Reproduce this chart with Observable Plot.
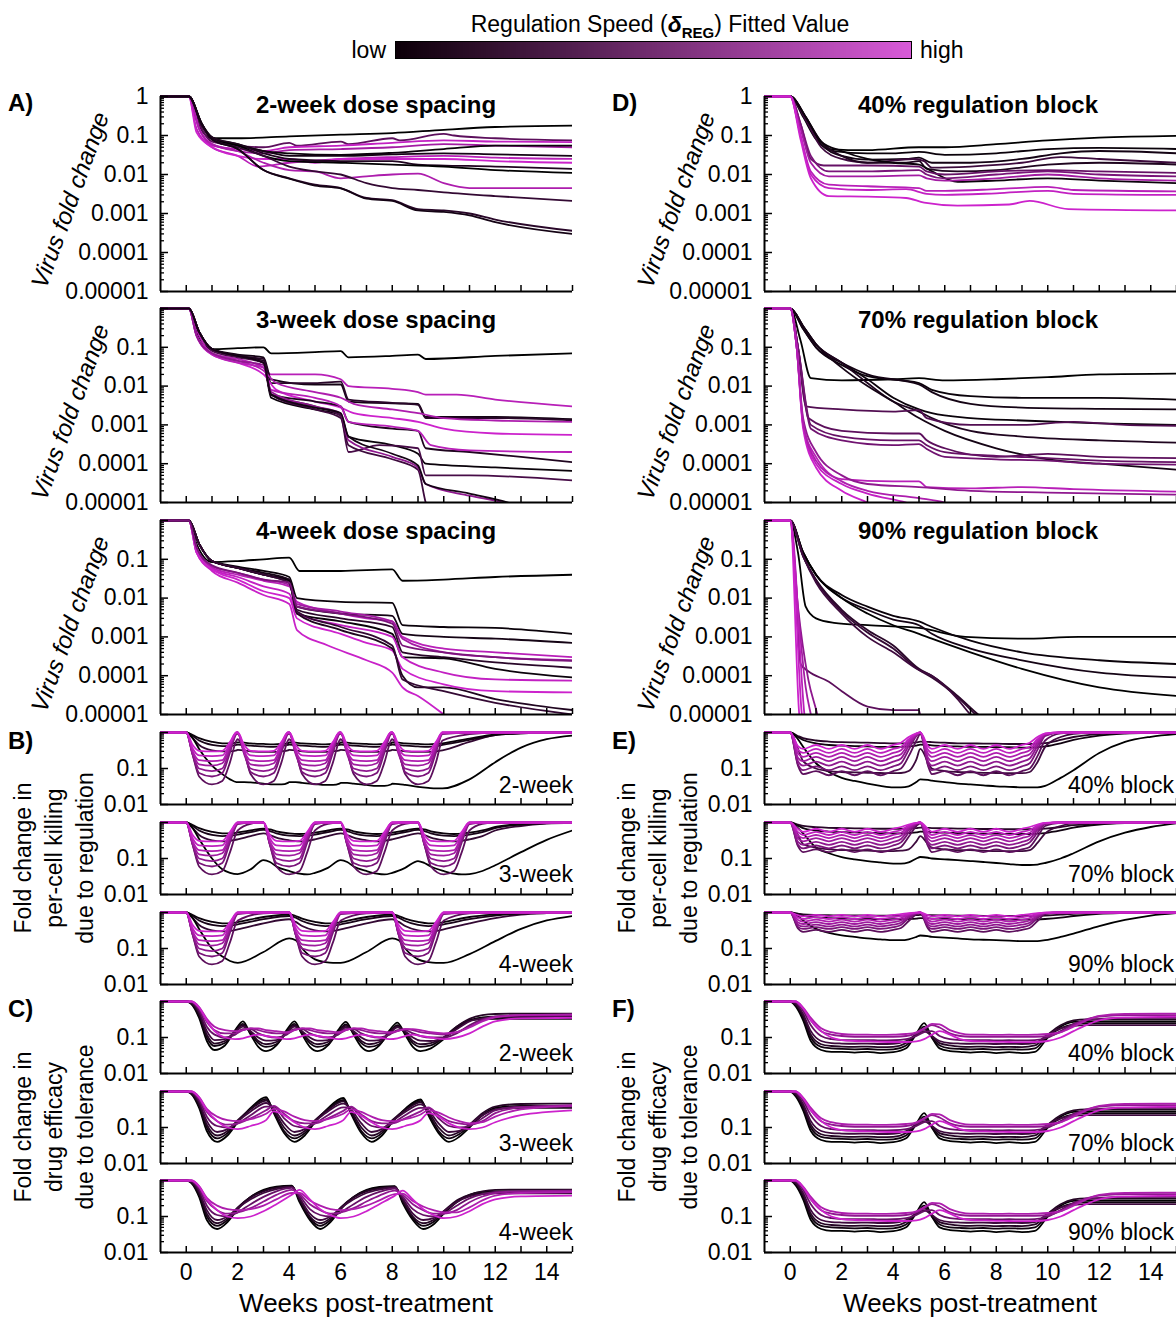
<!DOCTYPE html>
<html><head><meta charset="utf-8">
<script src="https://cdn.jsdelivr.net/npm/d3@7"></script>
<script src="https://cdn.jsdelivr.net/npm/@observablehq/plot@0.6"></script>
<style>
body{margin:0;width:1176px;height:1317px;overflow:hidden;background:#fff;}
#root{position:relative;width:1176px;height:1317px;overflow:hidden;font-family:"Liberation Sans",Arial,Helvetica,sans-serif;color:#000;}
.t{position:absolute;white-space:nowrap;line-height:1.15;}
svg{position:absolute;}
</style></head><body><div id="root"></div>
<script>
// ---------- axes / tick labels ----------
const xTicks = [0,1,2,3,4,5,6,7,8,9,10,11,12,13,14,15];
const xTickLabels = [0,2,4,6,8,10,12,14];
const virusTicks = [1,0.1,0.01,0.001,0.0001,0.00001];
const virusLabelsTop = ["1","0.1","0.01","0.001","0.0001","0.00001"];
const virusLabels = ["","0.1","0.01","0.001","0.0001","0.00001"];
const smallTicks = [1,0.1,0.01];
const smallLabels = ["","0.1","0.01"];
const LINE_RANGE = ["#000000","#cc22cc"];
const LEGEND_RANGE = ["#0d0009","#d85ad8"];

// ---------- Panel A: virus fold change, dose spacing ([colour 0..1, [[week, value],...]]) ----------
const virus2wk = [
 [0.00,[[-1,1],[0.1,1],[0.4,0.25],[1,0.085],[2,0.085],[4,0.095],[6,0.105],[8,0.115],[10,0.14],[12,0.165],[15,0.18]]],
 [0.45,[[-1,1],[0.1,1],[0.5,0.2],[1,0.07],[2,0.055],[3,0.05],[4,0.065],[4.3,0.055],[6,0.07],[6.3,0.06],[8,0.085],[8.3,0.075],[10,0.11],[10.4,0.1],[12,0.085],[15,0.075]]],
 [0.95,[[-1,1],[0.1,1],[0.5,0.15],[1,0.055],[2,0.045],[3,0.04],[4,0.05],[6,0.055],[8,0.065],[10,0.075],[12,0.07],[15,0.068]]],
 [0.80,[[-1,1],[0.1,1],[0.5,0.15],[1,0.06],[2,0.04],[3,0.035],[4,0.042],[6,0.045],[8,0.05],[10,0.06],[12,0.055],[15,0.05]]],
 [0.05,[[-1,1],[0.1,1],[0.6,0.18],[1,0.09],[2,0.06],[3,0.04],[4,0.035],[6,0.032],[8,0.036],[10,0.045],[12,0.055],[15,0.055]]],
 [0.10,[[-1,1],[0.1,1],[0.6,0.2],[1,0.09],[2,0.055],[3,0.04],[4,0.03],[6,0.03],[8,0.033],[10,0.035],[12,0.033],[15,0.03]]],
 [0.90,[[-1,1],[0.1,1],[0.4,0.15],[1,0.05],[2,0.03],[2.8,0.016],[4,0.02],[6,0.025],[8,0.028],[10,0.03],[12,0.027],[15,0.025]]],
 [1.00,[[-1,1],[0.1,1],[0.4,0.12],[1,0.05],[2,0.03],[3,0.025],[4,0.025],[5,0.02],[6,0.025],[8,0.025],[10,0.025],[12,0.022],[15,0.02]]],
 [0.15,[[-1,1],[0.1,1],[0.6,0.2],[1,0.09],[2,0.06],[3,0.035],[4,0.025],[6,0.022],[8,0.022],[9,0.018],[12,0.016],[15,0.014]]],
 [0.00,[[-1,1],[0.1,1],[0.6,0.2],[1,0.08],[2,0.055],[3,0.03],[4,0.022],[6,0.02],[8,0.018],[10,0.016],[12,0.013],[15,0.011]]],
 [0.85,[[-1,1],[0.1,1],[0.5,0.15],[1,0.06],[2,0.04],[3,0.02],[4,0.013],[5,0.012],[6,0.008],[7,0.009],[8,0.01],[9,0.0105],[10,0.006],[11,0.0045],[15,0.0045]]],
 [0.25,[[-1,1],[0.1,1],[0.6,0.18],[1,0.08],[2,0.05],[3,0.03],[4,0.016],[5,0.012],[6,0.01],[7,0.006],[8,0.0045],[9,0.004],[10,0.0035],[12,0.0028],[15,0.0021]]],
 [0.20,[[-1,1],[0.1,1],[0.6,0.2],[1,0.08],[2,0.045],[3,0.013],[4,0.008],[5,0.0055],[6,0.0045],[7,0.0025],[8,0.0022],[9,0.0013],[10,0.0012],[11,0.001],[12,0.0007],[15,0.00036]]],
 [0.10,[[-1,1],[0.1,1],[0.6,0.2],[1,0.08],[2,0.045],[3,0.013],[4,0.0078],[5,0.0052],[6,0.0044],[7,0.0024],[8,0.0021],[9,0.0012],[10,0.0011],[11,0.0009],[12,0.0006],[15,0.0003]]]
];
const virus3wk = [
 [0.00,[[-1,1],[0.1,1],[0.4,0.25],[1,0.09],[2,0.095],[3,0.1],[3.3,0.07],[5,0.075],[6,0.08],[6.3,0.055],[8,0.06],[9,0.065],[9.3,0.05],[12,0.06],[15,0.07]]],
 [0.90,[[-1,1],[0.1,1],[0.5,0.2],[1,0.07],[2,0.05],[3,0.03],[3.3,0.02],[5,0.02],[6,0.015],[6.3,0.01],[8,0.0085],[9,0.007],[9.3,0.006],[10.5,0.006],[12,0.0045],[15,0.003]]],
 [0.10,[[-1,1],[0.1,1],[0.5,0.25],[1,0.09],[2,0.065],[3,0.055],[3.3,0.015],[5,0.011],[6,0.011],[6.3,0.004],[8,0.0036],[9,0.0035],[9.3,0.0016],[12,0.0016],[15,0.0014]]],
 [0.20,[[-1,1],[0.1,1],[0.5,0.25],[1,0.085],[2,0.06],[3,0.05],[3.3,0.012],[5,0.012],[6,0.013],[6.3,0.0045],[8,0.0037],[9,0.0033],[9.3,0.0015],[12,0.0015],[15,0.0013]]],
 [0.85,[[-1,1],[0.1,1],[0.4,0.2],[1,0.07],[2,0.045],[3,0.025],[3.5,0.012],[5,0.007],[6,0.005],[6.5,0.0035],[8,0.0025],[9,0.002],[10,0.0015],[12,0.0013],[15,0.0012]]],
 [1.00,[[-1,1],[0.1,1],[0.4,0.2],[1,0.065],[2,0.04],[3,0.02],[3.5,0.008],[5,0.004],[6,0.0028],[6.5,0.002],[8,0.0015],[9,0.0012],[10,0.0008],[12,0.0006],[15,0.00055]]],
 [0.15,[[-1,1],[0.1,1],[0.5,0.25],[1,0.09],[2,0.06],[3,0.045],[3.3,0.006],[5,0.004],[6,0.003],[6.3,0.0012],[8,0.0008],[9,0.0007],[9.3,0.00025],[11,0.0002],[13,0.00015],[15,0.00011]]],
 [0.90,[[-1,1],[0.1,1],[0.4,0.2],[1,0.065],[2,0.04],[3,0.03],[3.3,0.008],[5,0.005],[6,0.003],[6.3,0.0012],[8,0.0009],[9,0.0007],[9.5,0.0003],[11,0.00022],[15,0.0002]]],
 [0.05,[[-1,1],[0.1,1],[0.5,0.25],[1,0.09],[2,0.06],[3,0.04],[3.3,0.005],[5,0.0025],[6,0.0018],[6.3,0.0005],[8,0.0003],[9,0.00018],[9.3,0.0001],[12,0.00008],[15,0.000065]]],
 [0.35,[[-1,1],[0.1,1],[0.5,0.25],[1,0.08],[2,0.055],[3,0.04],[3.3,0.006],[5,0.003],[6,0.0017],[6.3,0.0002],[7.5,0.0003],[9,0.00025],[9.3,0.00005],[11,0.00005],[15,0.000037]]],
 [0.30,[[-1,1],[0.1,1],[0.5,0.25],[1,0.09],[2,0.06],[3,0.04],[3.3,0.006],[5,0.0025],[6,0.0015],[6.3,0.0003],[8,0.00013],[9,0.00007],[9.3,0.00001],[9.6,0.000004]]],
 [0.70,[[-1,1],[0.1,1],[0.4,0.2],[1,0.07],[2,0.045],[3,0.035],[3.3,0.007],[5,0.003],[6,0.002],[6.3,0.0004],[8,0.00015],[9,0.00008],[9.3,0.00003],[11,0.000015],[12.3,0.00001],[13,0.000007]]],
 [0.10,[[-1,1],[0.1,1],[0.5,0.25],[1,0.09],[2,0.06],[3,0.04],[3.3,0.006],[5,0.0028],[6,0.002],[6.3,0.0005],[8,0.00018],[9,0.00009],[9.3,0.00003],[11,0.000017],[12.5,0.00001],[13.2,0.000007]]]
];
const virus4wk = [
 [0.00,[[-1,1],[0.1,1],[0.4,0.25],[1,0.085],[2,0.09],[3,0.1],[4,0.11],[4.4,0.05],[6,0.05],[8,0.055],[8.4,0.028],[10,0.03],[12,0.035],[15,0.04]]],
 [0.05,[[-1,1],[0.1,1],[0.5,0.25],[1,0.09],[2,0.065],[3,0.05],[4,0.035],[4.3,0.01],[6,0.008],[8,0.0075],[8.4,0.002],[10,0.0018],[12,0.0017],[15,0.0012]]],
 [0.10,[[-1,1],[0.1,1],[0.5,0.25],[1,0.09],[2,0.06],[3,0.045],[4,0.03],[4.3,0.006],[6,0.004],[8,0.0035],[8.4,0.0012],[10,0.001],[12,0.0009],[15,0.0007]]],
 [0.90,[[-1,1],[0.1,1],[0.4,0.2],[1,0.06],[2,0.04],[3,0.028],[4,0.02],[4.3,0.008],[6,0.004],[7,0.003],[8,0.0025],[8.4,0.001],[10,0.0005],[12,0.0004],[15,0.0003]]],
 [0.80,[[-1,1],[0.1,1],[0.4,0.2],[1,0.065],[2,0.045],[3,0.03],[4,0.022],[4.3,0.007],[6,0.0045],[8,0.0025],[8.4,0.0009],[10,0.0004],[12,0.0003],[15,0.00025]]],
 [0.20,[[-1,1],[0.1,1],[0.5,0.25],[1,0.09],[2,0.06],[3,0.04],[4,0.03],[4.3,0.005],[6,0.003],[8,0.0018],[8.4,0.0004],[10,0.0003],[12,0.00022],[15,0.00016]]],
 [0.05,[[-1,1],[0.1,1],[0.5,0.25],[1,0.09],[2,0.06],[3,0.04],[4,0.028],[4.3,0.004],[6,0.0025],[8,0.0012],[8.4,0.0003],[10,0.00028],[12,0.00015],[15,0.00009]]],
 [0.95,[[-1,1],[0.1,1],[0.4,0.15],[1,0.055],[2,0.035],[3,0.02],[4,0.013],[4.3,0.004],[6,0.002],[8,0.001],[8.4,0.0003],[10,0.00012],[12,0.00008],[15,0.000075]]],
 [1.00,[[-1,1],[0.1,1],[0.4,0.15],[1,0.055],[2,0.03],[3,0.015],[4,0.01],[4.3,0.003],[6,0.0012],[7,0.0007],[8,0.00045],[8.4,0.00015],[10,0.00006],[12,0.00004],[15,0.000037]]],
 [0.98,[[-1,1],[0.1,1],[0.4,0.15],[1,0.05],[2,0.025],[3,0.012],[4,0.007],[4.3,0.0015],[5.5,0.0006],[7,0.00025],[8,0.00012],[8.4,0.00005],[9,0.00003],[10,0.00001],[10.3,0.000007]]],
 [0.15,[[-1,1],[0.1,1],[0.5,0.25],[1,0.09],[2,0.06],[3,0.04],[4,0.025],[4.3,0.004],[6,0.0015],[8,0.0005],[8.4,0.0001],[9,0.00005],[10,0.00005],[12,0.000025],[15,0.000013]]],
 [0.25,[[-1,1],[0.1,1],[0.5,0.25],[1,0.09],[2,0.06],[3,0.04],[4,0.025],[4.3,0.0045],[6,0.0018],[8,0.0006],[8.4,0.00008],[10,0.00004],[12,0.00002],[15,0.00001]]],
 [0.60,[[-1,1],[0.1,1],[0.4,0.2],[1,0.07],[2,0.045],[3,0.03],[4,0.025],[4.3,0.006],[6,0.004],[8,0.0022],[8.4,0.0006],[10,0.0004],[12,0.0003],[15,0.00024]]]
];

// ---------- Panel D: virus fold change, regulation block ----------
const virus40 = [
 [0.00,[[-1,1],[0,1],[0.5,0.3],[1,0.08],[1.5,0.045],[3,0.042],[5,0.05],[6,0.05],[8,0.06],[10,0.075],[12,0.088],[15,0.098]]],
 [0.05,[[-1,1],[0,1],[0.5,0.35],[1,0.1],[1.7,0.04],[3,0.035],[4,0.035],[5,0.038],[6,0.032],[8,0.035],[10,0.045],[12,0.048],[15,0.045]]],
 [0.10,[[-1,1],[0,1],[0.6,0.3],[1.2,0.06],[2,0.03],[3,0.024],[4.5,0.025],[5,0.027],[5.5,0.02],[7,0.02],[9,0.025],[10.5,0.035],[12,0.04],[15,0.035]]],
 [0.30,[[-1,1],[0,1],[0.6,0.25],[1.2,0.05],[2,0.025],[3,0.02],[4.8,0.025],[5.2,0.022],[5.5,0.015],[7,0.016],[9,0.02],[10.5,0.028],[12,0.025],[15,0.02]]],
 [0.15,[[-1,1],[0,1],[0.6,0.3],[1.2,0.07],[2,0.03],[3,0.02],[4.5,0.02],[5,0.022],[5.3,0.014],[6.5,0.012],[8,0.013],[10,0.018],[12,0.02],[15,0.018]]],
 [0.05,[[-1,1],[0,1],[0.6,0.3],[1.2,0.07],[2,0.04],[3,0.025],[4,0.02],[5,0.018],[5.5,0.012],[6.5,0.0065],[8,0.007],[10,0.008],[12,0.007],[15,0.006]]],
 [0.50,[[-1,1],[0,1],[0.4,0.2],[0.8,0.025],[1.3,0.017],[3,0.017],[5,0.016],[5.3,0.012],[6,0.01],[8,0.012],[10,0.013],[12,0.012],[15,0.011]]],
 [0.60,[[-1,1],[0,1],[0.4,0.2],[0.8,0.03],[1.5,0.012],[3,0.012],[5,0.013],[5.3,0.01],[6,0.008],[8,0.01],[10,0.012],[12,0.01],[15,0.009]]],
 [0.80,[[-1,1],[0,1],[0.4,0.15],[0.8,0.02],[1.5,0.009],[3,0.009],[5,0.0095],[5.3,0.008],[6,0.007],[8,0.008],[10,0.01],[12,0.008],[15,0.007]]],
 [0.90,[[-1,1],[0,1],[0.4,0.1],[0.8,0.012],[1.5,0.0055],[3,0.005],[5,0.0045],[5.3,0.0038],[6,0.0038],[8,0.0042],[10,0.0048],[11,0.004],[15,0.0037]]],
 [0.95,[[-1,1],[0,1],[0.4,0.1],[0.8,0.01],[1.5,0.0045],[3,0.004],[4.5,0.0042],[5.3,0.0032],[6,0.003],[8,0.0033],[10,0.0038],[11,0.0032],[15,0.003]]],
 [1.00,[[-1,1],[0,1],[0.4,0.08],[0.8,0.008],[1.5,0.0028],[3,0.0027],[4.5,0.0025],[5.2,0.0019],[6.5,0.0016],[8.5,0.0017],[9.3,0.0021],[10.8,0.0013],[15,0.0012]]]
];
const virus70 = [
 [0.00,[[-1,1],[0,1],[0.4,0.15],[0.8,0.016],[2,0.014],[4,0.015],[5,0.016],[6,0.014],[8,0.015],[10,0.017],[12,0.02],[15,0.021]]],
 [0.05,[[-1,1],[0,1],[0.5,0.3],[1,0.1],[2,0.035],[3,0.018],[5,0.012],[5.5,0.008],[7,0.0055],[9,0.005],[12,0.005],[15,0.0045]]],
 [0.10,[[-1,1],[0,1],[0.5,0.3],[1,0.1],[2,0.04],[3,0.02],[5,0.011],[5.5,0.007],[7,0.0035],[9,0.0028],[12,0.0026],[15,0.0025]]],
 [0.05,[[-1,1],[0,1],[0.5,0.35],[1,0.12],[2,0.04],[3,0.015],[4,0.005],[5,0.0025],[5.5,0.002],[7,0.0015],[9,0.0013],[12,0.0011],[15,0.001]]],
 [0.15,[[-1,1],[0,1],[0.5,0.35],[1,0.12],[2,0.04],[3,0.012],[4,0.004],[5,0.0022],[5.5,0.0015],[7,0.0007],[9,0.0005],[12,0.0004],[15,0.00035]]],
 [0.10,[[-1,1],[0,1],[0.5,0.35],[1,0.12],[2,0.03],[3,0.01],[4,0.004],[5,0.0015],[6,0.0007],[8,0.00025],[10,0.00013],[12,0.0001],[15,0.00007]]],
 [0.40,[[-1,1],[0,1],[0.3,0.1],[0.6,0.003],[2,0.0025],[4,0.0022],[5,0.0024],[5.3,0.0015],[7,0.001],[9,0.001],[11,0.0012],[13,0.001],[15,0.00095]]],
 [0.45,[[-1,1],[0,1],[0.3,0.1],[0.7,0.0015],[2,0.0007],[4,0.0006],[5,0.0006],[5.3,0.0004],[6,0.00025],[8,0.00015],[10,0.00018],[12,0.00015],[15,0.00014]]],
 [0.50,[[-1,1],[0,1],[0.3,0.1],[0.8,0.001],[2,0.0005],[4,0.0004],[5,0.0004],[5.3,0.0003],[6,0.0002],[8,0.00016],[10,0.00014],[12,0.00012],[15,0.00011]]],
 [0.55,[[-1,1],[0,1],[0.3,0.1],[0.8,0.0008],[2,0.0004],[4,0.0003],[5,0.00032],[5.3,0.00024],[6,0.00015],[8,0.00013],[10,0.00012],[12,0.0001],[15,0.000095]]],
 [0.90,[[-1,1],[0,1],[0.25,0.1],[0.5,0.001],[1,0.00015],[2,0.00004],[4,0.000035],[5,0.000035],[5.3,0.000025],[7,0.000023],[9,0.000025],[11,0.000022],[15,0.000019]]],
 [0.70,[[-1,1],[0,1],[0.25,0.1],[0.5,0.0015],[1,0.0002],[2,0.00005],[3,0.00003],[5,0.000025],[7,0.00002],[10,0.000018],[15,0.000016]]],
 [1.00,[[-1,1],[0,1],[0.25,0.1],[0.5,0.0008],[1,0.00008],[2,0.00002],[3,0.00001],[3.5,0.000007]]],
 [0.95,[[-1,1],[0,1],[0.25,0.1],[0.5,0.001],[1,0.0001],[2,0.00003],[3,0.000017],[4.5,0.00001],[5,0.000008]]],
 [0.85,[[-1,1],[0,1],[0.25,0.1],[0.5,0.0012],[1,0.00012],[2,0.000035],[3,0.00002],[5,0.000013],[6,0.00001],[6.5,0.000008]]]
];
const virus90 = [
 [0.00,[[-1,1],[0,1],[0.3,0.15],[0.6,0.006],[1,0.003],[1.7,0.0023],[3,0.002],[5,0.0017],[6.8,0.001],[9,0.0009],[11.2,0.001],[13,0.001],[15,0.001]]],
 [0.05,[[-1,1],[0,1],[0.5,0.15],[1,0.04],[2,0.012],[3,0.006],[4,0.0035],[5,0.0025],[5.5,0.0018],[7,0.0008],[9,0.0004],[12,0.00025],[15,0.0002]]],
 [0.10,[[-1,1],[0,1],[0.5,0.15],[1,0.04],[2,0.01],[3,0.005],[4,0.0028],[5,0.002],[5.5,0.0012],[7,0.0005],[9,0.00025],[12,0.00012],[15,0.00009]]],
 [0.00,[[-1,1],[0,1],[0.5,0.15],[1,0.04],[2,0.01],[3,0.004],[4,0.002],[5,0.0012],[5.5,0.0009],[7,0.0004],[9,0.00015],[12,0.00005],[15,0.00003]]],
 [0.20,[[-1,1],[0,1],[0.5,0.12],[1,0.03],[2,0.005],[3,0.0015],[4,0.0006],[5,0.00015],[5.5,0.0001],[6.5,0.00003],[7.3,0.00001],[7.6,0.000007]]],
 [0.25,[[-1,1],[0,1],[0.5,0.12],[1,0.028],[2,0.0045],[3,0.0013],[4,0.0005],[5,0.00014],[5.5,0.00009],[6.5,0.000028],[7.2,0.00001],[7.5,0.000007]]],
 [0.30,[[-1,1],[0,1],[0.5,0.12],[1,0.025],[2,0.004],[3,0.001],[4,0.0004],[5,0.00014],[5.5,0.0001],[6.5,0.000025],[7,0.00001],[7.3,0.000007]]],
 [0.45,[[-1,1],[0,1],[0.15,0.1],[0.4,0.0002],[0.7,0.00013],[1.5,0.00007],[2,0.00004],[3,0.000016],[4,0.000013],[5,0.000013],[5.1,0.000005]]],
 [0.70,[[-1,1],[0,1],[0.3,0.006],[0.7,0.00008],[1.05,0.00001],[1.15,0.000005]]],
 [0.80,[[-1,1],[0,1],[0.3,0.005],[0.6,0.00005],[0.8,0.00001],[0.9,0.000005]]],
 [0.90,[[-1,1],[0,1],[0.55,0.00001],[0.6,0.000005]]],
 [0.95,[[-1,1],[0,1],[0.45,0.00001],[0.5,0.000005]]],
 [1.00,[[-1,1],[0,1],[0.35,0.00001],[0.4,0.000005]]]
];

// ---------- Panel B: per-cell killing (times + values) ----------
const kill2wkT = [-1, 0,.25,.5,1,1.4,1.7,1.95, 2,2.25,2.5,3,3.4,3.7,3.95, 4,4.25,4.5,5,5.4,5.7,5.95, 6,6.25,6.5,7,7.4,7.7,7.95, 8,8.25,8.5,9,9.4,9.7,9.95, 11,12,13,14,15];
const kill2wk = [
 [0.25,[1, 1,.7,.45,.32,.3,.3,.32, .33,.32,.3,.29,.29,.3,.32, .33,.32,.3,.29,.29,.3,.32, .33,.32,.3,.29,.29,.3,.32, .33,.32,.3,.29,.29,.3,.32, .55,.85,.95,1,1]],
 [0.12,[1, 1,.8,.6,.45,.42,.42,.45, .46,.45,.43,.41,.4,.42,.45, .46,.45,.43,.41,.4,.42,.45, .46,.45,.43,.41,.4,.42,.45, .46,.45,.43,.41,.4,.42,.45, .62,.85,.95,1,1]],
 [0.05,[1, 1,.85,.7,.55,.5,.5,.52, .53,.52,.5,.48,.47,.48,.5, .53,.52,.5,.48,.47,.48,.5, .53,.52,.5,.48,.47,.48,.5, .53,.52,.5,.48,.47,.48,.5, .68,.88,.96,1,1]],
 [0.00,[1, 1,.7,.35,.12,.07,.05,.042, .042,.042,.041,.038,.036,.036,.04, .042,.042,.04,.037,.035,.035,.038, .04,.04,.038,.035,.033,.033,.036, .038,.037,.035,.031,.029,.028,.028, .05,.15,.38,.65,.82]],
 [0.45,[1, 1,.24,.06,.036,.045,.15,.6, .65,.3,.07,.036,.045,.15,.6, .65,.3,.07,.036,.045,.15,.6, .65,.3,.07,.036,.045,.15,.6, .65,.3,.07,.036,.045,.15,.6, .9,1,1,1,1]],
 [0.60,[1, 1,.24,.075,.06,.075,.28,.9, .92,.3,.08,.06,.075,.28,.9, .92,.3,.08,.06,.075,.28,.9, .92,.3,.08,.06,.075,.28,.9, .92,.3,.08,.06,.075,.28,.9, 1,1,1,1,1]],
 [0.70,[1, 1,.25,.1,.085,.1,.35,.95, 1,.25,.1,.085,.1,.35,.95, 1,.25,.1,.085,.1,.35,.95, 1,.25,.1,.085,.1,.35,.95, 1,.25,.1,.085,.1,.35,.95, 1,1,1,1,1]],
 [0.78,[1, 1,.27,.13,.12,.14,.4,.98, 1,.27,.13,.12,.14,.4,.98, 1,.27,.13,.12,.14,.4,.98, 1,.27,.13,.12,.14,.4,.98, 1,.27,.13,.12,.14,.4,.98, 1,1,1,1,1]],
 [0.86,[1, 1,.3,.17,.16,.17,.45,1, 1,.3,.17,.16,.17,.45,1, 1,.3,.17,.16,.17,.45,1, 1,.3,.17,.16,.17,.45,1, 1,.3,.17,.16,.17,.45,1, 1,1,1,1,1]],
 [0.93,[1, 1,.36,.23,.22,.23,.5,1, 1,.36,.23,.22,.23,.5,1, 1,.36,.23,.22,.23,.5,1, 1,.36,.23,.22,.23,.5,1, 1,.36,.23,.22,.23,.5,1, 1,1,1,1,1]],
 [1.00,[1, 1,.45,.31,.3,.31,.55,1, 1,.45,.31,.3,.31,.55,1, 1,.45,.31,.3,.31,.55,1, 1,.45,.31,.3,.31,.55,1, 1,.45,.31,.3,.31,.55,1, 1,1,1,1,1]]
];
const kill3wkT = [-1, 0,.25,.5,1,1.4,1.7,2,2.5, 3,3.25,3.5,4,4.4,4.7,5,5.5, 6,6.25,6.5,7,7.4,7.7,8,8.5, 9,9.25,9.5,10,10.4,10.7,11,11.5, 12,13,14,15];
const kill3wk = [
 [0.25,[1, 1,.7,.45,.32,.3,.31,.34,.42, .5,.45,.38,.32,.3,.31,.34,.42, .5,.45,.38,.32,.3,.31,.34,.42, .5,.45,.38,.32,.3,.31,.34,.42, .6,.8,.93,.98]],
 [0.12,[1, 1,.8,.6,.45,.42,.43,.46,.54, .62,.58,.5,.43,.42,.43,.46,.54, .62,.58,.5,.43,.42,.43,.46,.54, .62,.58,.5,.43,.42,.43,.46,.54, .7,.88,.96,.99]],
 [0.05,[1, 1,.85,.7,.55,.5,.5,.53,.6, .68,.64,.57,.5,.48,.49,.52,.6, .68,.64,.57,.5,.48,.49,.52,.6, .68,.64,.57,.5,.48,.49,.52,.6, .75,.9,.97,1]],
 [0.00,[1, 1,.7,.35,.1,.05,.04,.037,.05, .09,.08,.06,.045,.038,.036,.04,.055, .09,.08,.06,.045,.038,.036,.04,.055, .085,.075,.06,.045,.038,.036,.037,.045, .065,.15,.33,.6]],
 [0.45,[1, 1,.24,.06,.036,.045,.15,.6,.92, 1,.24,.06,.036,.045,.15,.6,.92, 1,.24,.06,.036,.045,.15,.6,.92, 1,.24,.06,.036,.045,.15,.6,.92, 1,1,1,1]],
 [0.60,[1, 1,.24,.075,.06,.075,.28,.9,1, 1,.24,.075,.06,.075,.28,.9,1, 1,.24,.075,.06,.075,.28,.9,1, 1,.24,.075,.06,.075,.28,.9,1, 1,1,1,1]],
 [0.70,[1, 1,.25,.1,.085,.1,.35,.95,1, 1,.25,.1,.085,.1,.35,.95,1, 1,.25,.1,.085,.1,.35,.95,1, 1,.25,.1,.085,.1,.35,.95,1, 1,1,1,1]],
 [0.78,[1, 1,.27,.13,.12,.14,.4,.98,1, 1,.27,.13,.12,.14,.4,.98,1, 1,.27,.13,.12,.14,.4,.98,1, 1,.27,.13,.12,.14,.4,.98,1, 1,1,1,1]],
 [0.86,[1, 1,.3,.17,.16,.17,.45,1,1, 1,.3,.17,.16,.17,.45,1,1, 1,.3,.17,.16,.17,.45,1,1, 1,.3,.17,.16,.17,.45,1,1, 1,1,1,1]],
 [0.93,[1, 1,.36,.23,.22,.23,.5,1,1, 1,.36,.23,.22,.23,.5,1,1, 1,.36,.23,.22,.23,.5,1,1, 1,.36,.23,.22,.23,.5,1,1, 1,1,1,1]],
 [1.00,[1, 1,.45,.31,.3,.31,.55,1,1, 1,.45,.31,.3,.31,.55,1,1, 1,.45,.31,.3,.31,.55,1,1, 1,.45,.31,.3,.31,.55,1,1, 1,1,1,1]]
];
const kill4wkT = [-1, 0,.25,.5,1,1.4,1.7,2,3, 4,4.25,4.5,5,5.4,5.7,6,7, 8,8.25,8.5,9,9.4,9.7,10,11, 12,13,14,15];
const kill4wk = [
 [0.25,[1, 1,.7,.45,.32,.3,.31,.34,.5, .65,.55,.42,.32,.3,.31,.34,.5, .65,.55,.42,.32,.3,.31,.34,.5, .7,.88,.96,.99]],
 [0.12,[1, 1,.8,.6,.45,.42,.43,.47,.65, .8,.72,.58,.45,.42,.43,.47,.65, .8,.72,.58,.45,.42,.43,.47,.65, .82,.93,.98,1]],
 [0.05,[1, 1,.85,.7,.55,.5,.5,.54,.75, .88,.8,.68,.55,.5,.5,.54,.75, .88,.8,.68,.55,.5,.5,.54,.75, .88,.96,1,1]],
 [0.00,[1, 1,.7,.35,.1,.06,.045,.04,.08, .19,.17,.1,.05,.042,.04,.04,.08, .19,.17,.1,.05,.042,.04,.04,.07, .16,.35,.6,.8]],
 [0.45,[1, 1,.24,.06,.036,.045,.15,.6,.95, 1,.24,.06,.036,.045,.15,.6,.95, 1,.24,.06,.036,.045,.15,.6,.95, 1,1,1,1]],
 [0.60,[1, 1,.24,.075,.06,.075,.28,.9,1, 1,.24,.075,.06,.075,.28,.9,1, 1,.24,.075,.06,.075,.28,.9,1, 1,1,1,1]],
 [0.70,[1, 1,.25,.1,.085,.1,.35,.95,1, 1,.25,.1,.085,.1,.35,.95,1, 1,.25,.1,.085,.1,.35,.95,1, 1,1,1,1]],
 [0.78,[1, 1,.27,.13,.12,.14,.4,.98,1, 1,.27,.13,.12,.14,.4,.98,1, 1,.27,.13,.12,.14,.4,.98,1, 1,1,1,1]],
 [0.86,[1, 1,.3,.17,.16,.17,.45,1,1, 1,.3,.17,.16,.17,.45,1,1, 1,.3,.17,.16,.17,.45,1,1, 1,1,1,1]],
 [0.93,[1, 1,.36,.23,.22,.23,.5,1,1, 1,.36,.23,.22,.23,.5,1,1, 1,.36,.23,.22,.23,.5,1,1, 1,1,1,1]],
 [1.00,[1, 1,.45,.31,.3,.31,.55,1,1, 1,.45,.31,.3,.31,.55,1,1, 1,.45,.31,.3,.31,.55,1,1, 1,1,1,1]]
];

// ---------- Panel E: per-cell killing, regulation block ----------
const killBlockT = [-1, 0,.3,.5,1,1.5,2,2.5,3,3.5,4,4.3,4.6,4.9, 5.05,5.35,5.5,6,6.5,7,7.5,8,8.5,9,9.3,9.6,9.9, 10.5,11,12,13,14,15];
const kill40 = [
 [0.20,[1, 1,.8,.7,.6,.56,.54,.53,.52,.51,.5,.5,.51,.53, .56,.55,.54,.52,.5,.5,.49,.49,.48,.48,.48,.49,.51, .62,.75,.9,.97,1,1]],
 [0.08,[1, 1,.75,.62,.5,.45,.43,.42,.41,.4,.4,.4,.41,.43, .46,.45,.44,.42,.41,.4,.4,.39,.39,.38,.38,.39,.41, .5,.62,.82,.93,.98,1]],
 [0.00,[1, 1,.65,.4,.14,.08,.055,.045,.038,.033,.03,.03,.032,.042, .05,.048,.046,.042,.038,.036,.034,.032,.031,.03,.03,.03,.033, .055,.09,.27,.55,.76,.9]],
 [0.30,[1, 1,.35,.16,.1,.085,.08,.078,.076,.075,.074,.075,.085,.18, .35,.15,.1,.085,.08,.078,.076,.075,.074,.074,.08,.15,.4, .75,.92,1,1,1,1]],
 [0.45,[1, 1,.12,.07,.085,.065,.085,.065,.085,.065,.085,.1,.22,.6, .9,.12,.07,.085,.065,.085,.065,.085,.065,.085,.1,.22,.6, .95,1,1,1,1,1]],
 [0.60,[1, 1,.13,.09,.115,.09,.115,.09,.115,.09,.115,.14,.33,.8, .98,.13,.09,.115,.09,.115,.09,.115,.09,.115,.14,.33,.8, 1,1,1,1,1,1]],
 [0.70,[1, 1,.16,.12,.155,.12,.155,.12,.155,.12,.155,.19,.42,.85, 1,.16,.12,.155,.12,.155,.12,.155,.12,.155,.19,.42,.85, 1,1,1,1,1,1]],
 [0.78,[1, 1,.2,.16,.21,.16,.21,.16,.21,.16,.21,.25,.5,.88, 1,.2,.16,.21,.16,.21,.16,.21,.16,.21,.25,.5,.88, 1,1,1,1,1,1]],
 [0.86,[1, 1,.26,.21,.27,.21,.27,.21,.27,.21,.27,.32,.58,.9, 1,.26,.21,.27,.21,.27,.21,.27,.21,.27,.32,.58,.9, 1,1,1,1,1,1]],
 [0.93,[1, 1,.33,.27,.35,.27,.35,.27,.35,.27,.35,.4,.65,.93, 1,.33,.27,.35,.27,.35,.27,.35,.27,.35,.4,.65,.93, 1,1,1,1,1,1]],
 [1.00,[1, 1,.42,.35,.45,.35,.45,.35,.45,.35,.45,.52,.75,.95, 1,.42,.35,.45,.35,.45,.35,.45,.35,.45,.52,.75,.95, 1,1,1,1,1,1]]
];
const kill70 = [
 [0.20,[1, 1,.88,.8,.74,.71,.7,.69,.68,.67,.67,.67,.68,.7, .72,.71,.7,.69,.68,.67,.66,.66,.65,.65,.65,.66,.68, .75,.84,.95,.99,1,1]],
 [0.08,[1, 1,.82,.7,.6,.56,.54,.53,.52,.51,.5,.5,.51,.53, .56,.55,.54,.52,.51,.5,.49,.49,.48,.48,.48,.49,.51, .6,.72,.88,.96,.99,1]],
 [0.00,[1, 1,.7,.5,.2,.14,.11,.095,.085,.078,.072,.072,.078,.1, .11,.105,.1,.095,.09,.085,.08,.075,.07,.066,.066,.068,.075, .1,.14,.3,.52,.75,.95]],
 [0.30,[1, 1,.45,.25,.2,.18,.17,.17,.165,.16,.16,.165,.18,.3, .42,.25,.2,.18,.17,.17,.165,.16,.16,.16,.17,.27,.5, .8,.94,1,1,1,1]],
 [0.45,[1, 1,.22,.15,.18,.15,.18,.15,.18,.15,.18,.21,.4,.8, .95,.22,.15,.18,.15,.18,.15,.18,.15,.18,.21,.4,.8, .97,1,1,1,1,1]],
 [0.60,[1, 1,.24,.19,.23,.19,.23,.19,.23,.19,.23,.28,.52,.9, 1,.24,.19,.23,.19,.23,.19,.23,.19,.23,.28,.52,.9, 1,1,1,1,1,1]],
 [0.70,[1, 1,.29,.24,.29,.24,.29,.24,.29,.24,.29,.35,.62,.93, 1,.29,.24,.29,.24,.29,.24,.29,.24,.29,.35,.62,.93, 1,1,1,1,1,1]],
 [0.78,[1, 1,.36,.3,.37,.3,.37,.3,.37,.3,.37,.43,.7,.95, 1,.36,.3,.37,.3,.37,.3,.37,.3,.37,.43,.7,.95, 1,1,1,1,1,1]],
 [0.86,[1, 1,.44,.37,.45,.37,.45,.37,.45,.37,.45,.52,.76,.96, 1,.44,.37,.45,.37,.45,.37,.45,.37,.45,.52,.76,.96, 1,1,1,1,1,1]],
 [0.93,[1, 1,.54,.45,.55,.45,.55,.45,.55,.45,.55,.62,.82,.97, 1,.54,.45,.55,.45,.55,.45,.55,.45,.55,.62,.82,.97, 1,1,1,1,1,1]],
 [1.00,[1, 1,.66,.55,.67,.55,.67,.55,.67,.55,.67,.75,.88,.98, 1,.66,.55,.67,.55,.67,.55,.67,.55,.67,.75,.88,.98, 1,1,1,1,1,1]]
];
const kill90 = [
 [0.20,[1, 1,.93,.88,.85,.84,.83,.83,.82,.82,.82,.82,.83,.84, .86,.85,.84,.83,.82,.82,.81,.81,.8,.8,.8,.81,.82, .87,.92,.97,1,1,1]],
 [0.08,[1, 1,.88,.8,.73,.7,.68,.67,.66,.66,.65,.65,.66,.68, .7,.69,.68,.67,.66,.65,.65,.64,.64,.63,.63,.64,.66, .72,.8,.92,.97,1,1]],
 [0.00,[1, 1,.8,.6,.35,.27,.23,.21,.19,.18,.17,.17,.18,.21, .23,.22,.21,.2,.19,.18,.175,.17,.165,.16,.16,.16,.17, .21,.26,.42,.62,.82,.96]],
 [0.45,[1, 1,.36,.29,.33,.29,.33,.29,.33,.29,.33,.37,.58,.9, .97,.36,.29,.33,.29,.33,.29,.33,.29,.33,.37,.58,.9, .98,1,1,1,1,1]],
 [0.60,[1, 1,.4,.35,.39,.35,.39,.35,.39,.35,.39,.45,.7,.95, 1,.4,.35,.39,.35,.39,.35,.39,.35,.39,.45,.7,.95, 1,1,1,1,1,1]],
 [0.70,[1, 1,.46,.41,.46,.41,.46,.41,.46,.41,.46,.52,.77,.96, 1,.46,.41,.46,.41,.46,.41,.46,.41,.46,.52,.77,.96, 1,1,1,1,1,1]],
 [0.78,[1, 1,.53,.48,.54,.48,.54,.48,.54,.48,.54,.6,.83,.97, 1,.53,.48,.54,.48,.54,.48,.54,.48,.54,.6,.83,.97, 1,1,1,1,1,1]],
 [0.86,[1, 1,.62,.56,.63,.56,.63,.56,.63,.56,.63,.7,.88,.98, 1,.62,.56,.63,.56,.63,.56,.63,.56,.63,.7,.88,.98, 1,1,1,1,1,1]],
 [0.93,[1, 1,.72,.66,.74,.66,.74,.66,.74,.66,.74,.8,.92,.99, 1,.72,.66,.74,.66,.74,.66,.74,.66,.74,.8,.92,.99, 1,1,1,1,1,1]],
 [1.00,[1, 1,.84,.78,.86,.78,.86,.78,.86,.78,.86,.9,.96,.99, 1,.84,.78,.86,.78,.86,.78,.86,.78,.86,.9,.96,.99, 1,1,1,1,1,1]]
];

// ---------- Panel C: drug efficacy, dose spacing ----------
const eff2wkT = [-1,0,.2,.5,.8,1.1,1.5,1.9, 2.2,2.5,2.8,3.1,3.5,3.9, 4.2,4.5,4.8,5.1,5.5,5.9, 6.2,6.5,6.8,7.1,7.5,7.9, 8.2,8.5,8.8,9.1,9.5, 10,10.5,11,11.5,12,13,15];
const eff2wk = [
 [0.00,[1,1,.85,.35,.08,.045,.06,.16, .28,.12,.055,.042,.06,.16, .28,.12,.055,.042,.06,.16, .27,.12,.055,.042,.06,.16, .26,.12,.055,.042,.05, .09,.18,.3,.36,.38,.38,.38]],
 [0.08,[1,1,.88,.4,.1,.058,.07,.15, .24,.13,.07,.055,.065,.14, .24,.13,.07,.055,.065,.14, .23,.13,.07,.055,.065,.14, .22,.13,.07,.055,.06, .1,.2,.3,.32,.33,.33,.33]],
 [0.18,[1,1,.9,.45,.12,.068,.08,.15, .22,.14,.08,.065,.075,.14, .22,.14,.08,.065,.075,.14, .21,.14,.08,.065,.075,.14, .2,.14,.08,.065,.07, .1,.2,.33,.42,.45,.46,.46]],
 [0.30,[1,1,.92,.5,.15,.085,.09,.14, .2,.15,.1,.082,.085,.13, .2,.15,.1,.082,.085,.13, .19,.15,.1,.082,.085,.13, .19,.15,.1,.082,.08, .1,.17,.28,.34,.36,.36,.36]],
 [0.50,[1,1,.96,.58,.2,.12,.1,.12, .17,.17,.13,.11,.1,.12, .17,.17,.13,.11,.1,.12, .17,.17,.13,.11,.1,.12, .16,.16,.13,.11,.1, .1,.13,.22,.32,.38,.4,.4]],
 [0.70,[1,1,1,.65,.27,.16,.13,.13, .16,.18,.16,.14,.13,.13, .16,.18,.16,.14,.13,.13, .16,.18,.16,.14,.13,.13, .15,.17,.16,.14,.13, .12,.14,.2,.3,.38,.42,.42]],
 [0.85,[1,1,1,.7,.33,.2,.16,.15, .16,.18,.18,.16,.15,.14, .16,.18,.18,.16,.15,.14, .16,.18,.18,.16,.15,.14, .15,.17,.17,.16,.14, .13,.14,.19,.28,.36,.42,.44]],
 [1.00,[1,1,1,.68,.3,.15,.1,.09, .095,.11,.12,.11,.1,.09, .095,.11,.12,.11,.1,.09, .095,.11,.12,.11,.1,.09, .095,.11,.12,.11,.1, .09,.1,.13,.2,.28,.34,.35]]
];
const eff3wkT = [-1,0,.2,.5,.8,1.2,1.6,2,2.5,3.1, 3.4,3.8,4.2,4.6,5,5.5,6.1, 6.4,6.8,7.2,7.6,8,8.5,9.1, 9.4,9.8,10.2,10.6,11,11.5,12,13,15];
const eff3wk = [
 [0.00,[1,1,.85,.35,.08,.04,.06,.14,.35,.7, .25,.07,.04,.06,.14,.34,.66, .24,.07,.04,.06,.14,.33,.6, .22,.07,.04,.055,.1,.22,.35,.4,.4]],
 [0.08,[1,1,.88,.4,.1,.05,.07,.15,.33,.62, .27,.08,.05,.07,.15,.32,.58, .26,.08,.05,.07,.15,.31,.55, .25,.08,.05,.065,.11,.22,.32,.35,.35]],
 [0.18,[1,1,.9,.45,.12,.06,.08,.16,.32,.56, .3,.1,.06,.08,.16,.31,.53, .29,.1,.06,.08,.16,.3,.5, .28,.1,.06,.075,.12,.25,.38,.45,.46]],
 [0.30,[1,1,.92,.5,.15,.075,.09,.15,.28,.48, .33,.13,.075,.09,.15,.28,.46, .32,.13,.075,.09,.15,.27,.44, .31,.13,.075,.08,.12,.22,.32,.37,.37]],
 [0.50,[1,1,.96,.58,.2,.11,.1,.13,.22,.38, .38,.18,.11,.1,.13,.22,.36, .36,.18,.11,.1,.13,.22,.35, .35,.18,.11,.1,.11,.18,.3,.38,.4]],
 [0.70,[1,1,1,.65,.27,.15,.12,.13,.18,.3, .4,.24,.15,.13,.13,.18,.29, .38,.23,.15,.13,.13,.18,.28, .36,.22,.15,.13,.12,.15,.25,.36,.42]],
 [0.85,[1,1,1,.7,.33,.2,.16,.15,.17,.24, .33,.28,.2,.16,.15,.17,.24, .32,.27,.2,.16,.15,.17,.23, .3,.26,.19,.15,.13,.14,.2,.32,.4]],
 [1.00,[1,1,1,.68,.3,.15,.1,.09,.11,.16, .28,.22,.14,.1,.09,.11,.16, .27,.21,.14,.1,.09,.11,.16, .25,.2,.13,.1,.09,.1,.14,.22,.3]]
];
const eff4wkT = [-1,0,.2,.5,.8,1.2,1.6,2,2.5,3,3.5,4.1, 4.4,4.8,5.2,5.6,6,6.5,7,7.5,8.1, 8.4,8.8,9.2,9.6,10,10.5,11,11.5,12,13,15];
const eff4wk = [
 [0.00,[1,1,.85,.35,.08,.045,.07,.16,.35,.55,.68,.72, .25,.08,.045,.07,.16,.35,.55,.66,.7, .24,.08,.045,.06,.12,.25,.4,.48,.5,.5,.5]],
 [0.08,[1,1,.88,.4,.1,.055,.08,.17,.35,.52,.64,.7, .28,.09,.055,.08,.17,.35,.52,.62,.68, .27,.09,.055,.07,.13,.26,.38,.44,.46,.46,.46]],
 [0.18,[1,1,.9,.45,.12,.065,.09,.18,.34,.5,.62,.68, .3,.1,.065,.09,.18,.34,.5,.6,.66, .29,.1,.065,.08,.14,.28,.4,.5,.55,.56,.56]],
 [0.30,[1,1,.92,.5,.15,.08,.1,.17,.3,.45,.58,.66, .33,.12,.08,.1,.17,.3,.45,.56,.64, .32,.12,.08,.09,.14,.25,.36,.42,.44,.44,.44]],
 [0.50,[1,1,.96,.58,.2,.11,.1,.13,.22,.35,.5,.62, .38,.16,.11,.1,.13,.22,.35,.48,.6, .36,.16,.11,.1,.12,.2,.32,.42,.48,.5,.5]],
 [0.70,[1,1,1,.65,.27,.15,.12,.13,.17,.26,.4,.55, .42,.22,.15,.12,.13,.17,.26,.38,.52, .4,.22,.15,.12,.12,.15,.25,.36,.45,.5,.52]],
 [0.85,[1,1,1,.7,.33,.2,.16,.15,.16,.2,.3,.45, .45,.28,.2,.16,.15,.16,.2,.28,.42, .43,.27,.19,.15,.13,.13,.18,.28,.38,.45,.48]],
 [1.00,[1,1,1,.68,.3,.15,.1,.09,.1,.14,.22,.4, .55,.3,.16,.11,.09,.1,.14,.22,.38, .52,.3,.16,.11,.09,.1,.14,.22,.3,.36,.38]]
];

// ---------- Panel F: drug efficacy, regulation block (the three blocks read the same) ----------
const effBlockT = [-1,0,.2,.5,.8,1.2,1.6,2,2.5,3,3.5,4,4.5,4.9,5.2,5.5,5.8,6.2,6.6,7,7.5,8,8.5,9,9.5,10,10.5,11,11.5,12,13,15];
const effBlock = [
 [0.00,[1,1,.75,.3,.08,.045,.04,.04,.038,.04,.037,.039,.05,.13,.25,.1,.05,.042,.04,.038,.04,.037,.039,.037,.04,.1,.2,.27,.28,.28,.28,.28]],
 [0.08,[1,1,.8,.35,.1,.055,.05,.048,.047,.048,.046,.047,.06,.12,.2,.1,.06,.05,.048,.047,.048,.046,.047,.046,.05,.11,.18,.23,.25,.25,.25,.25]],
 [0.18,[1,1,.85,.4,.12,.065,.058,.056,.055,.056,.054,.055,.07,.13,.17,.11,.07,.06,.056,.055,.056,.054,.055,.054,.06,.12,.22,.3,.32,.32,.32,.32]],
 [0.30,[1,1,.9,.45,.15,.08,.07,.068,.067,.068,.066,.067,.08,.12,.15,.11,.08,.07,.068,.067,.068,.066,.067,.066,.07,.12,.18,.21,.22,.22,.22,.22]],
 [0.50,[1,1,.96,.55,.22,.11,.09,.085,.084,.085,.083,.084,.09,.11,.14,.15,.11,.09,.085,.084,.085,.083,.084,.083,.085,.1,.15,.24,.3,.33,.35,.35]],
 [0.70,[1,1,1,.62,.3,.15,.12,.11,.105,.105,.104,.105,.11,.13,.17,.22,.19,.13,.11,.105,.105,.104,.105,.104,.105,.11,.14,.22,.32,.38,.42,.42]],
 [0.85,[1,1,1,.68,.35,.18,.14,.125,.12,.12,.118,.12,.125,.14,.18,.24,.23,.16,.13,.12,.12,.118,.12,.118,.12,.125,.14,.2,.3,.4,.45,.46]],
 [1.00,[1,1,1,.65,.3,.15,.1,.085,.08,.078,.076,.075,.075,.078,.09,.12,.15,.12,.09,.08,.078,.076,.075,.074,.075,.08,.1,.15,.22,.3,.36,.38]]
];

// ---------- rendering ----------
const FONT = '"Liberation Sans", Arial, Helvetica, sans-serif';
const root = document.getElementById("root");

function addText(html, x, y, o = {}) {
  const d = document.createElement("div");
  d.className = "t";
  d.innerHTML = html;
  d.style.left = x + "px";
  d.style.top = y + "px";
  d.style.fontSize = (o.size || 23) + "px";
  if (o.bold) d.style.fontWeight = "bold";
  if (o.italic) d.style.fontStyle = "italic";
  if (o.lh) d.style.lineHeight = o.lh + "px";
  d.style.textAlign = o.align || "center";
  d.style.transform = `translate(${o.ax ?? -50}%, -50%) rotate(${o.rot || 0}deg)`;
  root.appendChild(d);
}

function drawPanel(p) {
  const {series, T, col, top, h, ymin, ticks, labels, xlabels} = p;
  const rows = [];
  series.forEach(([c, vals], id) => {
    vals.forEach((v, j) => rows.push(T ? {id, c, t: T[j], v} : {id, c, t: v[0], v: v[1]}));
  });
  const ml = col ? 174 : 160, W = col ? 586 : 590, mr = col ? 0 : 18;
  const pad = 10, mb = xlabels ? 46 : 6;
  const H = pad + h + mb;
  const minor = [];
  for (let e = Math.round(Math.log10(ymin)); e < 0; e++) for (let k = 2; k <= 9; k++) minor.push(k * Math.pow(10, e));
  const svg = Plot.plot({
    width: W, height: H, marginLeft: ml, marginRight: mr, marginTop: pad - 4, marginBottom: mb,
    style: {fontFamily: FONT, background: "transparent", overflow: "visible", color: "#000"},
    x: {domain: [-1, 15]},
    y: {type: "log", domain: [ymin, 1], range: [pad + h, pad]},
    color: {type: "linear", domain: [0, 1], range: LINE_RANGE},
    marks: [
      Plot.line(rows, {x: "t", y: "v", z: "id", stroke: "c", strokeWidth: 1.8, curve: "monotone-x", clip: true}),
      Plot.axisY(minor, {tickSize: -4, tickFormat: () => "", strokeWidth: 1.3, label: null}),
      Plot.axisY(ticks, {tickSize: -8, tickPadding: 20, tickFormat: d => labels[ticks.indexOf(d)], fontSize: 23, strokeWidth: 1.5, label: null}),
      Plot.axisX(xTicks, {tickSize: -6, tickPadding: 17, tickFormat: d => (xlabels && xTickLabels.includes(d)) ? String(d) : "", fontSize: 23, strokeWidth: 1.5, label: null}),
      Plot.ruleX([-1], {y1: ymin, y2: 1, strokeWidth: 2}),
      Plot.ruleY([ymin], {strokeWidth: 2})
    ]
  });
  svg.style.left = (col ? 590 : 0) + "px";
  svg.style.top = (top - pad) + "px";
  root.appendChild(svg);
}

const V = {ymin: 1e-5, ticks: virusTicks, labels: virusLabels};
const S = {ymin: 0.01, ticks: smallTicks, labels: smallLabels, h: 72};
const panels = [
  {series: virus2wk, col: 0, top: 96, h: 195, ...V, labels: virusLabelsTop},
  {series: virus3wk, col: 0, top: 308, h: 194, ...V},
  {series: virus4wk, col: 0, top: 520, h: 194, ...V},
  {series: kill2wk, T: kill2wkT, col: 0, top: 732, ...S},
  {series: kill3wk, T: kill3wkT, col: 0, top: 822, ...S},
  {series: kill4wk, T: kill4wkT, col: 0, top: 912, ...S},
  {series: eff2wk, T: eff2wkT, col: 0, top: 1001, ...S},
  {series: eff3wk, T: eff3wkT, col: 0, top: 1091, ...S},
  {series: eff4wk, T: eff4wkT, col: 0, top: 1180, ...S, xlabels: true},
  {series: virus40, col: 1, top: 96, h: 195, ...V, labels: virusLabelsTop},
  {series: virus70, col: 1, top: 308, h: 194, ...V},
  {series: virus90, col: 1, top: 520, h: 194, ...V},
  {series: kill40, T: killBlockT, col: 1, top: 732, ...S},
  {series: kill70, T: killBlockT, col: 1, top: 822, ...S},
  {series: kill90, T: killBlockT, col: 1, top: 912, ...S},
  {series: effBlock, T: effBlockT, col: 1, top: 1001, ...S},
  {series: effBlock, T: effBlockT, col: 1, top: 1091, ...S},
  {series: effBlock, T: effBlockT, col: 1, top: 1180, ...S, xlabels: true}
];
panels.forEach(drawPanel);

// colour bar legend
try {
  const leg = Plot.legend({color: {type: "linear", domain: [0, 1], range: LEGEND_RANGE}, width: 515, height: 16,
    marginTop: 0, marginBottom: 0, marginLeft: 0, marginRight: 0, ticks: 0, tickSize: 0, tickFormat: () => "", label: null});
  const box = document.createElement("div");
  Object.assign(box.style, {position: "absolute", left: "395px", top: "41px", width: "515px", height: "16px", border: "1.6px solid #000", overflow: "hidden", lineHeight: "0"});
  leg.style.position = "static";
  leg.style.display = "block";
  box.appendChild(leg);
  root.appendChild(box);
} catch (e) { console.error(e); }
addText('Regulation Speed (<b><i>δ</i><sub style="font-size:15px">REG</sub></b>) Fitted Value', 660, 26, {size: 23});
addText("low", 386, 50, {size: 23, ax: -100});
addText("high", 920, 50, {size: 23, ax: 0});

// titles and panel letters
[["2-week dose spacing", 376, 105], ["3-week dose spacing", 376, 320], ["4-week dose spacing", 376, 531],
 ["40% regulation block", 978, 105], ["70% regulation block", 978, 320], ["90% regulation block", 978, 531]]
  .forEach(([s, x, y]) => addText(s, x, y, {size: 24, bold: true}));
[["A)", 8, 103], ["B)", 8, 741], ["C)", 8, 1009], ["D)", 612, 103], ["E)", 612, 741], ["F)", 612, 1009]]
  .forEach(([s, x, y]) => addText(s, x, y, {size: 24, bold: true, ax: 0}));

// sub-panel labels
[["2-week", 785], ["3-week", 874], ["4-week", 964], ["2-week", 1053], ["3-week", 1143], ["4-week", 1232]]
  .forEach(([s, y]) => addText(s, 573, y, {size: 23, ax: -100}));
[["40% block", 785], ["70% block", 874], ["90% block", 964], ["40% block", 1053], ["70% block", 1143], ["90% block", 1232]]
  .forEach(([s, y]) => addText(s, 1174, y, {size: 23, ax: -100}));

// y-axis titles
[[70, 200], [70, 412], [70, 624], [676, 200], [676, 412], [676, 624]]
  .forEach(([x, y]) => addText("Virus fold change", x, y, {size: 24, italic: true, rot: -70}));
addText("Fold change in<br>per-cell killing<br>due to regulation", 54, 858, {size: 23, rot: -90, lh: 31});
addText("Fold change in<br>drug efficacy<br>due to tolerance", 54, 1127, {size: 23, rot: -90, lh: 31});
addText("Fold change in<br>per-cell killing<br>due to regulation", 658, 858, {size: 23, rot: -90, lh: 31});
addText("Fold change in<br>drug efficacy<br>due to tolerance", 658, 1127, {size: 23, rot: -90, lh: 31});

// x-axis titles
addText("Weeks post-treatment", 366, 1304, {size: 26});
addText("Weeks post-treatment", 970, 1304, {size: 26});
</script></body></html>
